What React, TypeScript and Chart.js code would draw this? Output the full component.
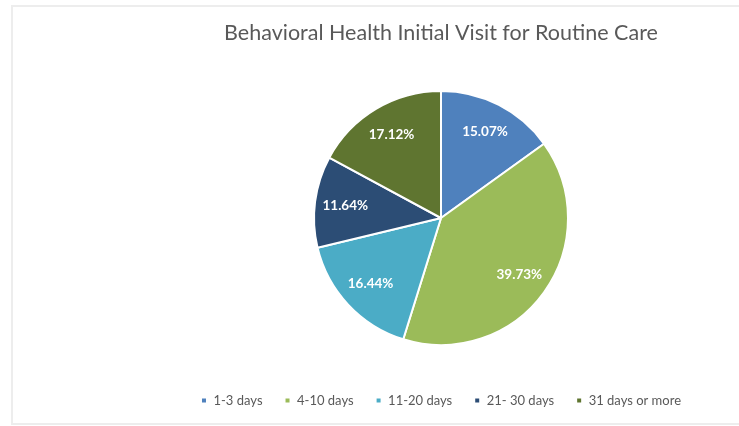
import React, { useEffect, useRef } from "react";
import { Chart, registerables } from "chart.js";

Chart.register(...registerables);

const titleText = "Behavioral Health Initial Visit for Routine Care";
const categories = ["1-3 days", "4-10 days", "11-20 days", "21- 30 days", "31 days or more"];
const percentValues = [15.07, 39.73, 16.44, 11.64, 17.12];
const sliceColors = ["#4F81BD", "#9BBB59", "#4BACC6", "#2C4D75", "#5F7530"];

const FONT = "Lato, 'Open Sans', sans-serif";

const sliceLabelPlugin = {
  id: "sliceLabels",
  afterDatasetsDraw(chart: any) {
    const ctx = chart.ctx;
    const meta = chart.getDatasetMeta(0);
    ctx.save();
    ctx.font = `bold 13.5px ${FONT}`;
    ctx.fillStyle = "#ffffff";
    ctx.textAlign = "center";
    ctx.textBaseline = "middle";
    meta.data.forEach((arc: any, i: number) => {
      const { x, y, startAngle, endAngle, outerRadius } = arc.getProps(
        ["x", "y", "startAngle", "endAngle", "outerRadius"],
        true
      );
      const mid = (startAngle + endAngle) / 2;
      const r = outerRadius * 0.76;
      const v = chart.data.datasets[0].data[i] as number;
      ctx.fillText(v.toFixed(2) + "%", x + Math.cos(mid) * r, y + Math.sin(mid) * r);
    });
    ctx.restore();
  },
};

export default function App() {
  const ref = useRef<HTMLCanvasElement | null>(null);

  useEffect(() => {
    document.body.style.margin = "0";
    const canvas = ref.current;
    if (!canvas) return;
    const chart = new Chart(canvas, {
      type: "pie",
      data: {
        labels: categories,
        datasets: [
          {
            data: percentValues,
            backgroundColor: sliceColors,
            borderColor: "#ffffff",
            borderWidth: 2,
          },
        ],
      },
      options: {
        animation: false,
        responsive: false,
        devicePixelRatio: 1,
        layout: { padding: { top: 0, bottom: 7, left: 0, right: 0 } },
        plugins: {
          title: {
            display: true,
            text: titleText,
            color: "#595959",
            font: { family: FONT, size: 21.5, weight: "normal" as any, lineHeight: 1.2 },
            padding: { top: 15.6, bottom: 43.6 },
          },
          legend: {
            display: true,
            position: "bottom",
            title: {
              display: true,
              text: " ",
              font: { size: 10, lineHeight: 1.2 },
              padding: { top: 7, bottom: 7 },
            },
            labels: {
              color: "#595959",
              font: { family: FONT, size: 13 },
              boxWidth: 6,
              boxHeight: 6,
              padding: 22,
            },
          },
          tooltip: { enabled: false },
        },
      },
      plugins: [sliceLabelPlugin],
    });
    return () => chart.destroy();
  }, []);

  return (
    <div
      style={{
        position: "fixed",
        left: 0,
        top: 0,
        width: 739,
        height: 426,
        overflow: "hidden",
        background: "#ffffff",
      }}
    >
      <canvas
        ref={ref}
        width={860}
        height={419}
        style={{ position: "absolute", left: 11, top: 5, width: 860, height: 419 }}
      />
      <div
        style={{
          position: "absolute",
          left: 11,
          top: 5,
          width: 900,
          height: 416,
          border: "2px solid #ededed",
          pointerEvents: "none",
        }}
      />
    </div>
  );
}
